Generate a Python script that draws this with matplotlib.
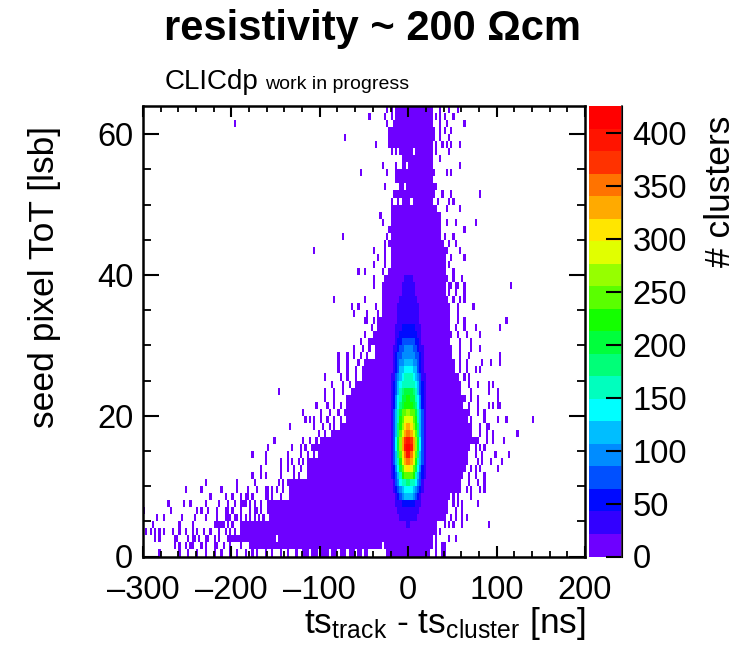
import numpy as np
import matplotlib
matplotlib.use("Agg")
import matplotlib.pyplot as plt
from matplotlib.colors import ListedColormap, BoundaryNorm
from matplotlib.ticker import MultipleLocator

plt.rcParams['font.family'] = ['Liberation Sans', 'DejaVu Sans']
plt.rcParams['mathtext.default'] = 'regular'

x_ticks = [-300, -200, -100, 0, 100, 200]
x_tick_labels = ['\u2013300', '\u2013200', '\u2013100', '0', '100', '200']
y_ticks = [0, 20, 40, 60]
z_ticks = [0, 50, 100, 150, 200, 250, 300, 350, 400]
z_max = 426
bin_ns = 2.5
n_tot = 64

# palette, bottom to top
palette = ['#6e00ff', '#3200ff', '#000aff', '#0050ff', '#008cff', '#00beff',
           '#00ffff', '#00ffbe', '#00ff78', '#00ff3c', '#14ff00', '#5aff00',
           '#96ff00', '#e1ff00', '#ffe600', '#ffaa00', '#ff7300', '#ff3200',
           '#ff1400', '#ff0000']

# edges of the filled region for each ToT row, in ns
solid_left = [-118, -179, -205, -190, -190, -156, -160, -160, -135, -134,
              -137, -115, -115, -113, -101, -109, -100, -83, -77, -69,
              -71, -69, -69, -64, -58, -51, -51, -49, -36, -37,
              -41, -38, -35, -34, -30, -30, -28, -26, -26, -24,
              -22, -20, -18, -18, -18, -18, -18, -18, -18, -18,
              -7, -17, -9, -15, -13, -7, -7, -10, -22, -22,
              -22, -17, -15, -15]
solid_right = [23, 27, 25, 30, 32, 42, 44, 44, 46, 59,
               59, 61, 63, 66, 66, 68, 78, 72, 70, 65,
               65, 61, 63, 59, 59, 55, 51, 51, 49, 49,
               47, 49, 47, 47, 47, 47, 44, 40, 40, 42,
               40, 40, 40, 40, 38, 36, 36, 36, 36, 32,
               27, 29, 32, 27, 29, 27, 27, 27, 27, 29,
               29, 27, 27, 27]

# isolated occupied bins left of the filled region, one list per ToT row
left_sparse = [
    [-281, -260, -249, -239, -230, -220, -211, -201, -194, -184, -177, -171, -162, -154, -145, -137, -126],
    [-265, -260, -252, -247, -243, -233, -228, -220, -216, -209, -201, -190],
    [-286, -282, -265, -262, -249, -245, -241, -237, -230, -226, -220, -213],
    [-296, -291, -287, -281, -277, -267, -258, -252, -245, -239, -232, -224, -215, -207, -201, -196],
    [-290, -288, -260, -243, -220, -217, -215, -212, -209, -203, -198],
    [-284, -277, -257, -242, -228, -216, -207, -204, -201, -197, -194, -190, -184, -179, -173, -169, -164],
    [-298, -270, -238, -233, -226, -216, -207, -203, -199, -190, -179, -175, -171, -167],
    [-272, -255, -246, -230, -215, -205, -196, -190, -186, -183, -179, -173, -167],
    [-225, -207, -199, -188, -184, -181, -177, -162, -158, -154, -145],
    [-251, -233, -212, -194, -181, -171, -162, -158, -154, -150, -141],
    [-229, -194, -175, -147, -141],
    [-176, -166, -162, -143, -130, -124],
    [-167, -145, -137, -130, -122],
    [-162, -145, -137, -132, -124, -118],
    [-176, -162, -137, -122, -113, -107],
    [-158, -131, -122, -117],
    [-152, -120, -111, -105],
    [-102, -94, -86],
    [-133, -107, -96, -90, -84],
    [-117, -111, -106, -98, -92, -84, -77],
    [-119, -99, -88, -79],
    [-103, -92, -84, -77],
    [-94, -83],
    [-147, -93, -83, -73],
    [-86, -73, -66],
    [-94, -77, -69, -58],
    [-79, -68, -58],
    [-79, -69, -56],
    [-79, -70, -62, -54, -46],
    [-62, -52, -45],
    [-54, -45],
    [-49],
    [-41],
    [-49, -47, -38],
    [-61, -47, -35],
    [-63, -56, -37],
    [-84, -50],
    [-30],
    [-38, -30],
    [-38, -27],
    [-57, -50, -28],
    [-38, -26],
    [-35, -26],
    [-106, -39, -26, -20],
    [-26, -22],
    [-73, -24],
    [-22],
    [-30],
    [-32],
    [],
    [-20, -11],
    [],
    [-27],
    [],
    [-54, -24],
    [-30, -13],
    [],
    [-18, -13],
    [-36],
    [-71],
    [],
    [-196, -24],
    [-44, -26, -20],
    [-24, -18],
]

# isolated occupied bins right of the filled region, one list per ToT row
right_sparse = [
    [31, 38, 42], [32, 38, 42], [32, 46, 54], [36], [40, 46, 51, 61, 90],
    [48, 53, 61, 66], [53, 61], [50, 55, 61, 78], [51, 57, 70], [65, 72, 80, 87],
    [68, 78, 87], [68, 76, 87], [70, 76, 82, 101], [78, 83, 94, 105], [76, 83, 98, 113],
    [76, 81, 87], [89, 96, 108], [81, 89, 95, 124], [81, 89, 92], [70, 86, 102, 110, 141],
    [68, 78, 86], [68, 78, 91, 95, 100, 104], [70, 78, 100], [72, 91, 100], [68, 78, 91, 95],
    [63, 68], [59, 66, 76, 81], [59, 66, 83, 94, 104], [59, 68, 104], [59, 70, 81],
    [59, 70], [55, 66, 81], [53, 64, 76, 103], [57, 63, 112], [55],
    [57, 74], [51, 59, 63], [46, 53, 63], [46, 49, 53, 57, 63, 117], [44, 50, 61],
    [51], [47], [42, 49, 64], [43, 58], [46, 54],
    [41, 50], [63], [43, 53, 76], [], [43, 59],
    [34, 46, 52], [38, 49, 81], [], [], [44, 48],
    [58], [36], [32, 46], [32, 38, 44, 48, 58], [36, 46],
    [36, 42, 49], [36, 44, 64], [30, 36, 41, 52], [36, 46, 57],
]

# empty bins inside the filled region: (ToT row, ns)
holes_tot = [0, 0, 0, 0, 0, 0, 0, 0, 0, 0, 0, 0, 0, 0, 0, 1, 1, 2, 57, 55, 52, 50]
holes_ns = [-111, -101, -88, -79, -69, -58, -51, -44, -41, -39, -36, -34, -31, -29, -26,
            -28, -30, -150, 5, -2, -5, 3]

# counts per ToT row in the central peak, from the two middle bins outwards
core_first_tot = 4
core_rows = [
    [22, 21, 20, 18, 16, 14, 12],
    [28, 26, 24, 22, 20, 16, 12],
    [38, 36, 32, 28, 24, 18, 14],
    [62, 58, 50, 40, 30, 22, 16, 12],
    [115, 108, 92, 70, 48, 30, 20, 14],
    [140, 135, 125, 105, 75, 48, 26, 18, 12],
    [175, 170, 160, 135, 100, 65, 35, 20, 14],
    [250, 240, 215, 170, 125, 80, 45, 24, 14],
    [305, 290, 255, 200, 145, 95, 55, 28, 16, 12],
    [350, 330, 285, 225, 165, 110, 65, 32, 18, 12],
    [385, 360, 310, 250, 185, 125, 72, 36, 18, 12],
    [415, 390, 335, 265, 200, 135, 78, 40, 20, 12],
    [390, 370, 320, 260, 195, 130, 78, 40, 20, 12],
    [350, 335, 295, 245, 185, 125, 75, 38, 20, 12],
    [320, 305, 275, 230, 175, 120, 72, 36, 20, 12],
    [290, 280, 255, 215, 165, 115, 70, 35, 18, 12],
    [265, 255, 235, 200, 155, 108, 65, 32, 18, 12],
    [230, 225, 210, 180, 142, 100, 60, 30, 16, 12],
    [215, 210, 195, 168, 132, 92, 55, 28, 16, 12],
    [200, 195, 180, 155, 122, 85, 50, 26, 14, 12],
    [168, 165, 155, 135, 108, 75, 45, 24, 14, 12],
    [152, 150, 140, 122, 98, 68, 40, 22, 14, 12],
    [135, 132, 125, 108, 85, 60, 35, 20, 12],
    [112, 110, 104, 90, 72, 50, 30, 18, 12],
    [105, 102, 95, 82, 65, 45, 26, 16, 12],
    [88, 86, 80, 70, 55, 38, 24, 14, 12],
    [72, 70, 66, 58, 45, 32, 20, 14, 12],
    [60, 58, 54, 48, 38, 26, 18, 12],
    [50, 48, 46, 40, 32, 24, 16, 12],
    [40, 38, 36, 32, 26, 20, 14, 12],
    [36, 35, 32, 28, 24, 18, 14, 12],
    [32, 31, 28, 25, 22, 16, 12],
    [28, 27, 26, 23, 20, 14, 12],
    [26, 25, 24, 21, 18, 12],
    [24, 23, 22, 20, 16, 12],
    [22, 22, 21, 18, 12],
    [21, 20, 18, 14, 12],
]


def to_bin(ns):
    return int(np.floor((ns + 300) / bin_ns))


x_edges = np.arange(-300, 200 + bin_ns, bin_ns)
y_edges = np.arange(0, n_tot + 1)
counts = np.zeros((n_tot, len(x_edges) - 1))

for t in range(n_tot):
    counts[t, to_bin(solid_left[t]):to_bin(solid_right[t]) + 1] = 12
    for ns in left_sparse[t] + right_sparse[t]:
        counts[t, to_bin(ns)] = 2
for t, ns in zip(holes_tot, holes_ns):
    counts[t, to_bin(ns)] = 0
mid = to_bin(0)
for i, row in enumerate(core_rows):
    t = core_first_tot + i
    for k, c in enumerate(row):
        counts[t, mid + k] = c
        counts[t, mid - 1 - k] = c

W, H = 753, 645
fig = plt.figure(figsize=(W / 100, H / 100), dpi=100)
ax = fig.add_axes([143 / W, 1 - 556.5 / H, 442 / W, 450.5 / H])
cax = fig.add_axes([588.5 / W, 1 - 556.5 / H, 33 / W, 450.5 / H])

cmap = ListedColormap(palette)
norm = BoundaryNorm(np.linspace(0, z_max, len(palette) + 1), cmap.N)
mesh = ax.pcolormesh(x_edges, y_edges, np.ma.masked_equal(counts, 0), cmap=cmap, norm=norm,
                     linewidth=0, antialiased=False)

ax.set_xlim(-300, 200)
ax.set_ylim(0, n_tot)
ax.set_xticks(x_ticks)
ax.set_xticklabels(x_tick_labels)
ax.set_yticks(y_ticks)
ax.xaxis.set_minor_locator(MultipleLocator(20))
ax.yaxis.set_minor_locator(MultipleLocator(5))
ax.tick_params(which='major', axis='x', direction='in', top=True, right=True, length=8, width=1.5,
               labelsize=23.5, pad=13)
ax.tick_params(which='major', axis='y', direction='in', top=True, right=True, length=11.5, width=1.5,
               labelsize=23.5, pad=7)
ax.tick_params(which='minor', axis='x', direction='in', top=True, length=4, width=1.3)
ax.tick_params(which='minor', axis='y', direction='in', right=True, length=5.8, width=1.3)
for s in ax.spines.values():
    s.set_linewidth(1.8)

cb = fig.colorbar(mesh, cax=cax, drawedges=False, spacing='proportional',
                  ticks=z_ticks)
cb.ax.minorticks_off()
cb.ax.tick_params(direction='in', length=11.5, width=1.5, labelsize=23.5, pad=8, right=True)
cb.outline.set_visible(False)
cax.spines['right'].set_visible(True)
cax.plot([1, 1], [0, 1], transform=cax.transAxes, color='#333333', lw=1.2, clip_on=False)

fig.text(372 / W, 1 - 29 / H, 'resistivity ~ 200 \u03a9cm', fontsize=30, fontweight='bold',
         ha='center', va='center')
fig.text(165 / W, 1 - 89 / H, 'CLICdp', fontsize=20, ha='left', va='baseline')
fig.text(265 / W, 1 - 89 / H, 'work in progress', fontsize=14, ha='left', va='baseline')
fig.text(45 / W, 1 - 277 / H, 'seed pixel ToT [lsb]', fontsize=25.5, rotation=90,
         ha='center', va='center')
fig.text(720 / W, 1 - 191 / H, '# clusters', fontsize=25.5, rotation=90, ha='center', va='center')
fig.text(586 / W, 1 - 633 / H, 'ts$_{track}$ - ts$_{cluster}$ [ns]', fontsize=25.5,
         ha='right', va='baseline')

fig.savefig('out.png', dpi=100)
